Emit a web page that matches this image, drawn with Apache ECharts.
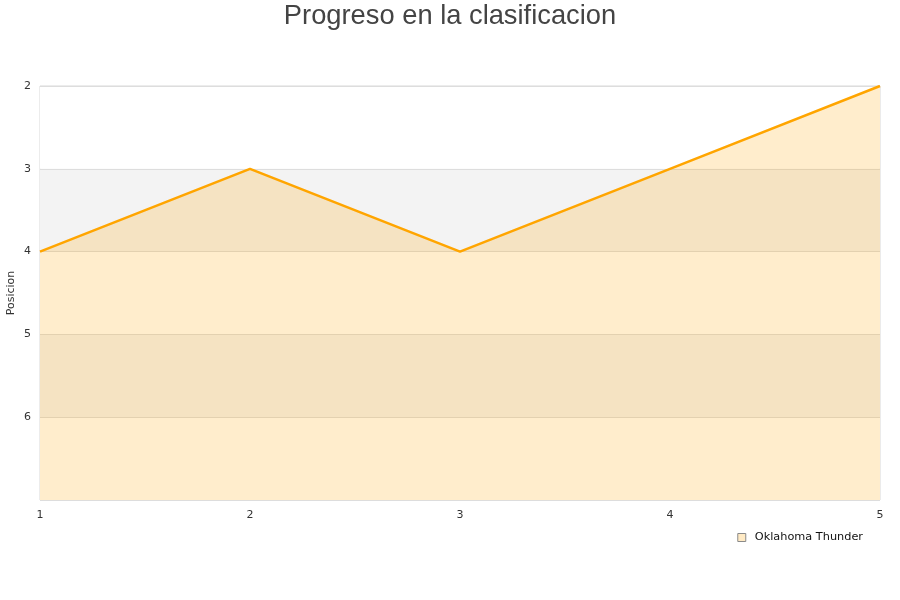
<!DOCTYPE html>
<html>
<head>
<meta charset="utf-8">
<script src="https://cdn.jsdelivr.net/npm/echarts@6/dist/echarts.min.js"></script>
<style>
    html, body { margin: 0; padding: 0; background: #fff; }
    #main { width: 900px; height: 600px; }
</style>
</head>
<body>
<div id="main"></div>
<script>
// jornadas y posiciones
var jornadas = [1, 2, 3, 4, 5];
var posiciones = [4, 3, 4, 3, 2];
var equipo = 'Oklahoma Thunder';

var myChart = echarts.init(document.getElementById('main'));

var puntos = jornadas.map(function (j, i) {
    return [j, posiciones[i]];
});

var option = {
    animation: false,
    title: {
        text: 'Progreso en la clasificacion',
        left: 'center',
        top: -2,
        textStyle: {
            fontFamily: 'Liberation Sans',
            fontSize: 27.3,
            fontWeight: 'normal',
            color: '#444'
        }
    },
    legend: {
        data: [equipo],
        right: 32,
        top: 527,
        icon: 'rect',
        itemWidth: 8,
        itemHeight: 8,
        itemGap: 10,
        itemStyle: {
            color: '#ffeac4',
            borderColor: '#8a8a8a',
            borderWidth: 1
        },
        textStyle: {
            fontFamily: 'DejaVu Sans',
            fontSize: 11.3,
            color: '#111',
            padding: [0, 0, 0, 4]
        }
    },
    grid: {
        left: 40,
        right: 20,
        top: 86,
        bottom: 100,
        outerBoundsMode: 'none',
        containLabel: false,
        show: true,
        borderColor: '#d8d8d8',
        borderWidth: 1,
        backgroundColor: 'transparent'
    },
    xAxis: {
        type: 'value',
        min: 1,
        max: 5,
        interval: 1,
        axisLine: { show: false },
        axisTick: { show: false },
        splitLine: { show: false },
        axisLabel: {
            fontFamily: 'DejaVu Sans',
            fontSize: 11,
            color: '#333',
            margin: 10
        }
    },
    yAxis: {
        type: 'value',
        inverse: true,
        min: 2,
        max: 7,
        interval: 1,
        name: 'Posicion',
        nameLocation: 'middle',
        nameGap: 23,
        nameMoveOverlap: false,
        nameTextStyle: {
            fontFamily: 'DejaVu Sans',
            fontSize: 11,
            color: '#333'
        },
        axisLine: { show: false },
        axisTick: { show: false },
        axisLabel: {
            showMaxLabel: false,
            fontFamily: 'DejaVu Sans',
            fontSize: 11,
            color: '#333',
            margin: 9
        },
        splitLine: {
            lineStyle: { color: '#ddd', width: 1 }
        },
        splitArea: {
            show: true,
            areaStyle: { color: ['#ffffff', '#f3f3f3'] }
        }
    },
    series: [
        {
            name: equipo,
            type: 'line',
            data: puntos,
            showSymbol: false,
            symbol: 'none',
            lineStyle: { color: '#ffa500', width: 2.5 },
            itemStyle: { color: '#ffa500' },
            areaStyle: {
                color: '#ffa500',
                opacity: 0.2,
                origin: 'end'
            }
        }
    ]
};

myChart.setOption(option);
</script>
</body>
</html>
